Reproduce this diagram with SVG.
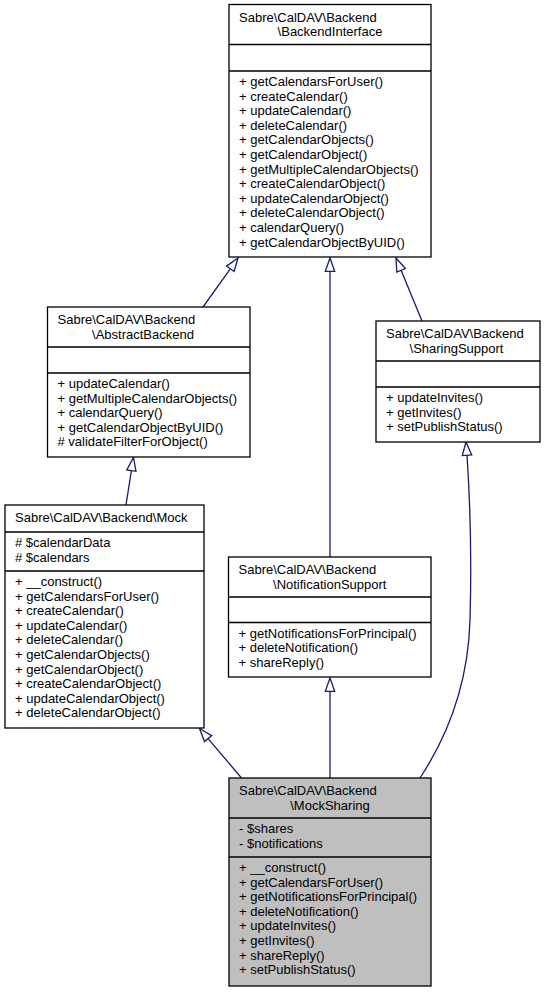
<svg xmlns="http://www.w3.org/2000/svg" width="545" height="992" viewBox="0 0 545 992">
<style>
  .box { fill: #ffffff; stroke: #000000; stroke-width: 1.3; }
  .cur { fill: #bfbfbf; stroke: #000000; stroke-width: 1.3; }
  .sep { stroke: #000000; stroke-width: 1.3; }
  text { font-family: "Liberation Sans", Arial, Helvetica, sans-serif; font-size: 13px; fill: #000000; }
  .c { text-anchor: middle; }
  .edge { fill: none; stroke: #191970; stroke-width: 1.3; }
  .head { fill: #ffffff; stroke: #191970; stroke-width: 1.3; }
</style>
<rect width="545" height="992" fill="#ffffff"/>

<g id="edges">
  <!-- AbstractBackend -> BackendInterface -->
  <path class="edge" d="M203,307 L230.3,268.8"/>
  <polygon class="head" points="238,258 234.1,271.5 226.5,266.1"/>
  <!-- NotificationSupport -> BackendInterface -->
  <path class="edge" d="M330,557 L330,271.3"/>
  <polygon class="head" points="330,258 334.7,271.3 325.3,271.3"/>
  <!-- SharingSupport -> BackendInterface -->
  <path class="edge" d="M422,321 L401.1,270.3"/>
  <polygon class="head" points="396,258 405.4,268.5 396.8,272.1"/>
  <!-- Mock -> AbstractBackend -->
  <path class="edge" d="M126,505 L131.4,470.6"/>
  <polygon class="head" points="133.5,457.5 136,471.3 126.8,469.9"/>
  <!-- MockSharing -> Mock -->
  <path class="edge" d="M241.5,778 L208.1,738.6"/>
  <polygon class="head" points="199.5,728.5 211.7,735.6 204.5,741.6"/>
  <!-- MockSharing -> NotificationSupport -->
  <path class="edge" d="M330,778 L330,691.3"/>
  <polygon class="head" points="330,678 334.7,691.3 325.3,691.3"/>
  <!-- MockSharing -> SharingSupport -->
  <path class="edge" d="M420,778 C445,740 468,690 470,620 C472,550 470,500 467,455.3"/>
  <polygon class="head" points="466,442 471.7,455 462.3,455.6"/>
</g>

<g id="BackendInterface">
  <rect class="box" x="229" y="4.5" width="202" height="252.5"/>
  <line class="sep" x1="229" y1="44.5" x2="431" y2="44.5"/>
  <line class="sep" x1="229" y1="71" x2="431" y2="71"/>
  <text x="239" y="21.5">Sabre\CalDAV\Backend</text>
  <text class="c" x="330" y="36.1">\BackendInterface</text>
  <text>
    <tspan x="239" y="86">+ getCalendarsForUser()</tspan>
    <tspan x="239" y="100.6">+ createCalendar()</tspan>
    <tspan x="239" y="115.2">+ updateCalendar()</tspan>
    <tspan x="239" y="129.8">+ deleteCalendar()</tspan>
    <tspan x="239" y="144.4">+ getCalendarObjects()</tspan>
    <tspan x="239" y="159">+ getCalendarObject()</tspan>
    <tspan x="239" y="173.6">+ getMultipleCalendarObjects()</tspan>
    <tspan x="239" y="188.2">+ createCalendarObject()</tspan>
    <tspan x="239" y="202.8">+ updateCalendarObject()</tspan>
    <tspan x="239" y="217.4">+ deleteCalendarObject()</tspan>
    <tspan x="239" y="232">+ calendarQuery()</tspan>
    <tspan x="239" y="246.6">+ getCalendarObjectByUID()</tspan>
  </text>
</g>

<g id="AbstractBackend">
  <rect class="box" x="47.5" y="307" width="202.5" height="150"/>
  <line class="sep" x1="47.5" y1="347" x2="250" y2="347"/>
  <line class="sep" x1="47.5" y1="373" x2="250" y2="373"/>
  <text x="57.5" y="324">Sabre\CalDAV\Backend</text>
  <text class="c" x="143" y="338.6">\AbstractBackend</text>
  <text>
    <tspan x="57.5" y="388">+ updateCalendar()</tspan>
    <tspan x="57.5" y="402.6">+ getMultipleCalendarObjects()</tspan>
    <tspan x="57.5" y="417.2">+ calendarQuery()</tspan>
    <tspan x="57.5" y="431.8">+ getCalendarObjectByUID()</tspan>
    <tspan x="57.5" y="446.4"># validateFilterForObject()</tspan>
  </text>
</g>

<g id="SharingSupport">
  <rect class="box" x="376" y="321" width="164" height="121"/>
  <line class="sep" x1="376" y1="361" x2="540" y2="361"/>
  <line class="sep" x1="376" y1="387" x2="540" y2="387"/>
  <text x="386" y="338">Sabre\CalDAV\Backend</text>
  <text class="c" x="456.5" y="352.6">\SharingSupport</text>
  <text>
    <tspan x="386" y="402">+ updateInvites()</tspan>
    <tspan x="386" y="416.6">+ getInvites()</tspan>
    <tspan x="386" y="431.2">+ setPublishStatus()</tspan>
  </text>
</g>

<g id="Mock">
  <rect class="box" x="5" y="505" width="199" height="223"/>
  <line class="sep" x1="5" y1="532" x2="204" y2="532"/>
  <line class="sep" x1="5" y1="571" x2="204" y2="571"/>
  <text x="15" y="522">Sabre\CalDAV\Backend\Mock</text>
  <text>
    <tspan x="15" y="547"># $calendarData</tspan>
    <tspan x="15" y="561.6"># $calendars</tspan>
  </text>
  <text>
    <tspan x="15" y="586">+ __construct()</tspan>
    <tspan x="15" y="600.6">+ getCalendarsForUser()</tspan>
    <tspan x="15" y="615.2">+ createCalendar()</tspan>
    <tspan x="15" y="629.8">+ updateCalendar()</tspan>
    <tspan x="15" y="644.4">+ deleteCalendar()</tspan>
    <tspan x="15" y="659">+ getCalendarObjects()</tspan>
    <tspan x="15" y="673.6">+ getCalendarObject()</tspan>
    <tspan x="15" y="688.2">+ createCalendarObject()</tspan>
    <tspan x="15" y="702.8">+ updateCalendarObject()</tspan>
    <tspan x="15" y="717.4">+ deleteCalendarObject()</tspan>
  </text>
</g>

<g id="NotificationSupport">
  <rect class="box" x="228.5" y="557" width="202.5" height="120"/>
  <line class="sep" x1="228.5" y1="597" x2="431" y2="597"/>
  <line class="sep" x1="228.5" y1="622.5" x2="431" y2="622.5"/>
  <text x="238.5" y="574">Sabre\CalDAV\Backend</text>
  <text class="c" x="329.75" y="588.6">\NotificationSupport</text>
  <text>
    <tspan x="238.5" y="637.5">+ getNotificationsForPrincipal()</tspan>
    <tspan x="238.5" y="652.1">+ deleteNotification()</tspan>
    <tspan x="238.5" y="666.7">+ shareReply()</tspan>
  </text>
</g>

<g id="MockSharing">
  <rect class="cur" x="229" y="778" width="202" height="208"/>
  <line class="sep" x1="229" y1="818" x2="431" y2="818"/>
  <line class="sep" x1="229" y1="857" x2="431" y2="857"/>
  <text x="239" y="795">Sabre\CalDAV\Backend</text>
  <text class="c" x="330" y="809.6">\MockSharing</text>
  <text>
    <tspan x="239" y="833">- $shares</tspan>
    <tspan x="239" y="847.6">- $notifications</tspan>
  </text>
  <text>
    <tspan x="239" y="872">+ __construct()</tspan>
    <tspan x="239" y="886.6">+ getCalendarsForUser()</tspan>
    <tspan x="239" y="901.2">+ getNotificationsForPrincipal()</tspan>
    <tspan x="239" y="915.8">+ deleteNotification()</tspan>
    <tspan x="239" y="930.4">+ updateInvites()</tspan>
    <tspan x="239" y="945">+ getInvites()</tspan>
    <tspan x="239" y="959.6">+ shareReply()</tspan>
    <tspan x="239" y="974.2">+ setPublishStatus()</tspan>
  </text>
</g>
</svg>
